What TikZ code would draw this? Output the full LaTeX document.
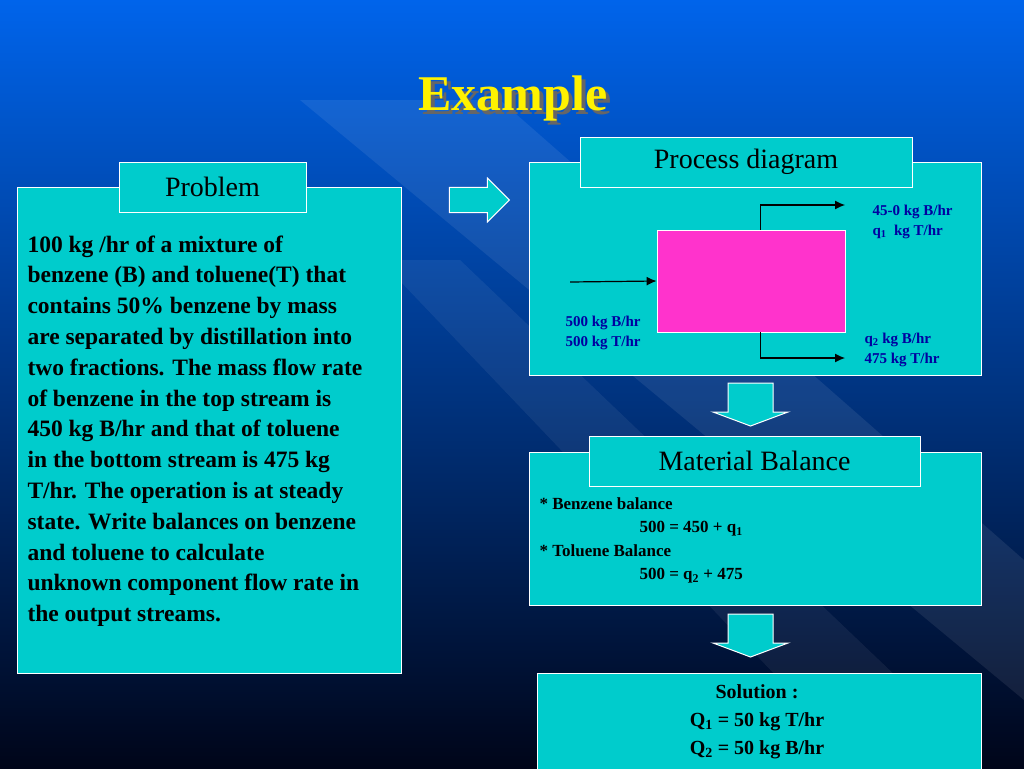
\documentclass[tikz,border=0pt]{standalone}
\usepackage{fontspec}
\setmainfont{Liberation Serif}
\usetikzlibrary{shapes.arrows,arrows.meta}
\definecolor{cy}{RGB}{0,204,204}
\definecolor{txtblue}{RGB}{0,0,160}
\definecolor{pinkb}{RGB}{255,51,204}
\definecolor{bgtop}{RGB}{0,100,235}
\definecolor{bgmid}{RGB}{0,60,170}
\definecolor{bgbot}{RGB}{0,5,25}
\begin{document}
\begin{tikzpicture}[x=1pt,y=-1pt,
  box/.style={draw=white,line width=1pt,fill=cy},
  lbl/.style={font=\fontsize{28}{30}\selectfont,text=black},
  small/.style={font=\bfseries\fontsize{15}{20}\selectfont,text=txtblue,align=left,anchor=west},
  flow/.style={-{Latex[length=10pt,width=9pt]},line width=1.2pt},
  darrow/.style={draw=white,fill=cy,line width=1pt}]
\useasboundingbox (0,0) rectangle (1024,768);
\shade[top color=bgtop,middle color=bgmid,bottom color=bgbot] (0,0) rectangle (1024,768);
\fill[white,opacity=0.08] (300,100) -- (500,100) -- (1024,560) -- (1024,700) -- cycle;
\fill[white,opacity=0.06] (380,260) -- (460,260) -- (900,680) -- (780,680) -- cycle;
\fill[black!60] (517,102) node[font=\bfseries\fontsize{50}{52}\selectfont,text=black!60] {Example};
\node[font=\bfseries\fontsize{50}{52}\selectfont,text=yellow] (title) at (513,98) {Example};
% problem
\draw[box] (17,187) rectangle (401,673);
\node[box,minimum width=187pt,minimum height=50pt,lbl] (prob) at (212.5,187) {Problem};
\node[anchor=north west,align=left,font=\bfseries\fontsize{23.5}{30.8}\selectfont] (ptext) at (24,232)
{100 kg /hr of a mixture of\\benzene (B) and toluene(T) that\\contains 50\% benzene by mass\\are separated by distillation into\\two fractions. The mass flow rate\\of benzene in the top stream is\\450 kg B/hr and that of toluene\\in the bottom stream is 475 kg\\T/hr. The operation is at steady\\state. Write balances on benzene\\and toluene to calculate\\unknown component flow rate in\\the output streams.};
% block arrows
\node[single arrow,draw=white,fill=cy,line width=1pt,minimum height=60pt,minimum width=44pt,single arrow head extend=4pt,inner sep=5pt] (ra) at (473,200) {};
\draw[darrow] (728,383) -- (773,383) -- (773,412) -- (788,412) -- (750.5,426) -- (713,412) -- (728,412) -- cycle;
\draw[darrow] (728,614) -- (773,614) -- (773,643) -- (788,643) -- (750.5,657) -- (713,643) -- (728,643) -- cycle;
% process
\draw[box] (529,162) rectangle (981,375);
\node[box,minimum width=332pt,minimum height=50pt,lbl] (proc) at (746,162) {Process diagram};
\node[draw=white,line width=0.8pt,fill=pinkb,minimum width=188pt,minimum height=102pt] (col) at (751,281) {};
\coordinate (in) at (570,282);
\coordinate (topend) at (845,205);
\coordinate (botend) at (845,358);
\draw[flow] (in) -- (col.west);
\draw[flow] (col.north west) ++(104,0) |- (topend);
\draw[flow] (col.south west) ++(104,0) |- (botend);
\node[small] (tl) at (869,222) {45-0 kg B/hr\\q\textsubscript{1}\ \ kg T/hr};
\node[small] (il) at (562,333) {500 kg B/hr\\500 kg T/hr};
\node[small] (bl) at (861,350) {q\textsubscript{2} kg B/hr\\475 kg T/hr};
% material balance
\draw[box] (529,452) rectangle (981,605);
\node[box,minimum width=331pt,minimum height=50pt,lbl] (mb) at (754.5,461) {Material Balance};
\node[anchor=north west,align=left,font=\bfseries\fontsize{17}{23.5}\selectfont] (mbt) at (536,494)
{* Benzene balance\\\hspace{100pt}500 = 450 + q\textsubscript{1}\\* Toluene Balance\\\hspace{100pt}500 = q\textsubscript{2} + 475};
% solution
\draw[box] (537,673) rectangle (981,775);
\node[align=center,font=\bfseries\fontsize{20}{28}\selectfont] (sol) at (757,722)
{Solution :\\Q\textsubscript{1} = 50 kg T/hr\\Q\textsubscript{2} = 50 kg B/hr};
\end{tikzpicture}
\end{document}
